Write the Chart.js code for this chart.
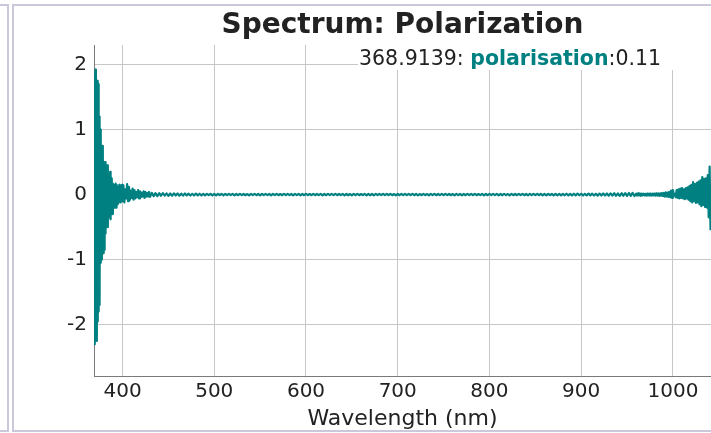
<!DOCTYPE html>
<html>
<head>
<meta charset="utf-8">
<script src="https://cdn.jsdelivr.net/npm/chart.js@4"></script>
<style>
  html, body { margin: 0; padding: 0; background: #fff; overflow: hidden; width: 711px; height: 433px; }
  .panel { position: absolute; border: 2px solid #c9c9db; box-sizing: border-box; }
  #panelLeft { left: -20px; top: 4px; width: 29px; height: 428px; }
  #panelMain { left: 12px; top: 4px; width: 760px; height: 428px; }
  canvas { position: absolute; left: 0; top: 0; }
</style>
</head>
<body>
<div class="panel" id="panelLeft"></div>
<div class="panel" id="panelMain"></div>
<canvas id="spectrum" width="711" height="433"></canvas>
<script>
// Text
const TITLE = 'Spectrum: Polarization';
const SERIES_NAME = 'polarisation';
const X_TITLE = 'Wavelength (nm)';

// Tick labels
const xTicks = [400, 500, 600, 700, 800, 900, 1000];
const yTicks = [-2, -1, 0, 1, 2];

// Axis ranges
const xRange = [368.9139, 1041.5];
const yRange = [-2.79, 2.30];

// Sampled wavelengths (nm)
const wavelengths = [
  368.9139,
  369.5,370,370.5,371,371.5,372,372.5,373,373.5,374,
  374.5,375,375.5,376,376.5,377,377.5,378,378.5,379,
  379.5,380,380.5,381,381.5,382,382.5,383,383.5,384,
  384.5,385,385.5,386,386.5,387,387.5,388,388.5,389,
  389.5,390,390.5,391,391.5,392,392.5,393,393.5,394,
  394.5,395,395.5,396,396.5,397,397.5,398,398.5,399,
  399.5,400,
  401,402,403,404,405,406,407,408,409,410,
  411,412,413,414,415,416,417,418,419,420,
  421,422,423,424,425,426,427,428,429,430,
  432,434,436,438,440,442,444,446,448,450,
  452,454,456,458,460,462,464,466,468,470,
  472,474,476,478,480,482,484,486,488,490,
  492,494,496,498,500,502,504,506,508,510,
  512,514,516,518,520,522,524,526,528,530,
  532,534,536,538,540,542,544,546,548,550,
  552,554,556,558,560,562,564,566,568,570,
  572,574,576,578,580,582,584,586,588,590,
  592,594,596,598,600,602,604,606,608,610,
  612,614,616,618,620,622,624,626,628,630,
  632,634,636,638,640,642,644,646,648,650,
  652,654,656,658,660,662,664,666,668,670,
  672,674,676,678,680,682,684,686,688,690,
  692,694,696,698,700,702,704,706,708,710,
  712,714,716,718,720,722,724,726,728,730,
  732,734,736,738,740,742,744,746,748,750,
  752,754,756,758,760,762,764,766,768,770,
  772,774,776,778,780,782,784,786,788,790,
  792,794,796,798,800,802,804,806,808,810,
  812,814,816,818,820,822,824,826,828,830,
  832,834,836,838,840,842,844,846,848,850,
  852,854,856,858,860,862,864,866,868,870,
  872,874,876,878,880,882,884,886,888,890,
  892,894,896,898,900,902,904,906,908,910,
  912,914,916,918,920,922,924,926,928,930,
  932,934,936,938,940,942,944,946,948,950,
  952,954,956,958,
  960,961,962,963,964,965,966,967,968,969,
  970,971,972,973,974,975,976,977,978,979,
  980,981,982,983,984,985,986,987,988,989,
  990,991,992,993,994,995,996,997,998,999,
  1000,1001,1002,1003,1004,1005,1006,1007,1008,1009,
  1010,1011,1012,1013,1014,1015,1016,1017,1018,1019,
  1020,1021,1022,1023,1024,1025,1026,1027,1028,1029,
  1030,1031,1032,1033,1034,1035,1036,1037,1038,1039,
  1040,1041
];

// Polarisation at each wavelength
const polarisation = [
  0.11,
  1.85,-2.3,1.92,-2.15,1.6,-2.25,1.75,-1.95,1.7,-1.8,
  1.2,-1.7,1.0,-1.05,0.9,-1.0,0.6,-0.55,0.75,-0.9,
  0.45,-0.85,0.5,-0.6,0.5,-0.45,0.3,-0.5,0.45,-0.5,
  0.25,-0.35,0.3,-0.3,0.35,-0.38,0.2,-0.25,0.25,-0.3,
  0.17,-0.15,0.15,-0.2,0.1,-0.15,0.17,-0.2,0.15,-0.12,
  0.12,-0.15,0.1,-0.12,0.15,-0.1,0.08,-0.12,0.13,-0.1,
  0.15,-0.1,
  0.14,-0.12,0.08,-0.06,0.16,-0.1,0.12,-0.08,0.06,-0.05,
  0.09,-0.08,0.07,-0.06,0.04,-0.04,0.07,-0.06,0.05,-0.04,
  0.03,-0.03,0.05,-0.05,0.04,-0.03,0.025,-0.03,0.04,-0.035,
  0.026,-0.024,0.022,-0.025,0.02,-0.018,0.022,-0.016,0.018,-0.02,
  0.016,-0.018,0.019,-0.014,0.016,-0.017,0.014,-0.016,0.017,-0.013,
  0.014,-0.015,0.012,-0.014,0.015,-0.012,0.013,-0.014,0.011,-0.013,
  0.012,-0.01,0.011,-0.012,0.009,-0.011,0.012,-0.01,0.011,-0.011,
  0.01,-0.009,0.011,-0.008,0.01,-0.011,0.009,-0.01,0.011,-0.009,
  0.009,-0.01,0.008,-0.011,0.01,-0.009,0.011,-0.01,0.009,-0.011,
  0.011,-0.009,0.01,-0.008,0.009,-0.011,0.01,-0.009,0.011,-0.01,
  0.008,-0.01,0.011,-0.009,0.01,-0.008,0.009,-0.011,0.01,-0.009,
  0.01,-0.011,0.009,-0.01,0.011,-0.009,0.008,-0.01,0.011,-0.01,
  0.009,-0.008,0.01,-0.011,0.009,-0.01,0.011,-0.009,0.01,-0.008,
  0.011,-0.01,0.009,-0.008,0.01,-0.011,0.009,-0.01,0.008,-0.011,
  0.01,-0.009,0.011,-0.01,0.008,-0.009,0.01,-0.011,0.009,-0.01,
  0.009,-0.011,0.01,-0.009,0.011,-0.008,0.01,-0.009,0.011,-0.01,
  0.011,-0.01,0.008,-0.011,0.009,-0.01,0.011,-0.009,0.01,-0.008,
  0.01,-0.008,0.011,-0.01,0.009,-0.011,0.008,-0.01,0.01,-0.009,
  0.008,-0.011,0.01,-0.009,0.011,-0.01,0.009,-0.008,0.011,-0.01,
  0.011,-0.009,0.009,-0.01,0.008,-0.011,0.01,-0.009,0.009,-0.011,
  0.009,-0.01,0.011,-0.008,0.01,-0.009,0.011,-0.01,0.008,-0.009,
  0.01,-0.011,0.009,-0.01,0.011,-0.009,0.01,-0.008,0.011,-0.011,
  0.009,-0.01,0.01,-0.009,0.008,-0.011,0.011,-0.01,0.009,-0.01,
  0.01,-0.009,0.011,-0.01,0.009,-0.011,0.01,-0.01,0.011,-0.01,
  0.011,-0.01,0.012,-0.011,0.01,-0.012,0.011,-0.01,0.012,-0.011,
  0.012,-0.011,0.01,-0.013,0.012,-0.011,0.013,-0.012,0.011,-0.013,
  0.013,-0.012,0.014,-0.011,0.013,-0.014,0.012,-0.013,0.015,-0.012,
  0.014,-0.015,0.013,-0.016,0.015,-0.014,0.017,-0.015,0.016,-0.017,
  0.018,-0.016,0.02,-0.018,0.017,-0.021,0.02,-0.018,0.022,-0.02,
  0.024,-0.021,0.026,-0.022,
  0.014,-0.016,0.02,-0.014,0.016,-0.02,0.013,-0.011,0.014,-0.013,
  0.012,-0.014,0.016,-0.013,0.014,-0.016,0.013,-0.014,0.016,-0.014,
  0.015,-0.017,0.02,-0.015,0.018,-0.02,0.02,-0.018,0.022,-0.02,
  0.025,-0.03,0.035,-0.03,0.03,-0.035,0.04,-0.04,0.06,-0.05,
  0.07,-0.01,0.01,-0.04,0.07,-0.05,0.08,-0.06,0.09,-0.05,
  0.1,-0.06,0.08,-0.07,0.1,-0.06,0.11,-0.08,0.13,-0.1,
  0.15,-0.12,0.19,-0.1,0.16,-0.13,0.18,-0.12,0.2,-0.15,
  0.22,-0.18,0.27,-0.16,0.24,-0.19,0.25,-0.2,0.3,-0.35,
  0.43,-0.55
];

const TEAL = '#008080';
const TEXT = '#222222';
const FONT = 'DejaVu Sans';
const GRID = '#c6c6c6';

const points = wavelengths.map((w, i) => ({ x: w, y: polarisation[i] }));

// Title centred over the plot area, plus the value readout in the top-right corner
const overlay = {
  id: 'overlay',
  afterDraw(chart) {
    const ctx = chart.ctx;
    const area = chart.chartArea;
    ctx.save();
    ctx.fillStyle = TEXT;
    ctx.textAlign = 'center';
    ctx.textBaseline = 'alphabetic';
    ctx.font = `bold 28px "${FONT}"`;
    ctx.fillText(TITLE, (area.left + area.right) / 2, 33);

    // readout box
    ctx.fillStyle = '#ffffff';
    ctx.fillRect(358, area.top, chart.width - 358, 25);

    let x = 359;
    const y = 64.5;
    ctx.textAlign = 'left';
    const head = wavelengths[0] + ': ';
    ctx.font = `20.5px "${FONT}"`;
    ctx.fillStyle = TEXT;
    ctx.fillText(head, x, y);
    x += ctx.measureText(head).width;
    ctx.font = `bold 20.5px "${FONT}"`;
    ctx.fillStyle = TEAL;
    ctx.fillText(SERIES_NAME, x, y);
    x += ctx.measureText(SERIES_NAME).width;
    ctx.font = `20.5px "${FONT}"`;
    ctx.fillStyle = TEXT;
    ctx.fillText(':' + polarisation[0], x, y);
    ctx.restore();
  }
};

new Chart(document.getElementById('spectrum'), {
  type: 'line',
  data: {
    datasets: [{
      label: SERIES_NAME,
      data: points,
      borderColor: TEAL,
      borderWidth: 2.2,
      borderJoinStyle: 'round',
      pointRadius: 0,
      tension: 0,
      fill: false
    }]
  },
  options: {
    responsive: false,
    animation: false,
    devicePixelRatio: 1,
    parsing: false,
    layout: { padding: { top: 45, left: 0, right: 0, bottom: 0 } },
    plugins: {
      legend: { display: false },
      title: { display: false },
      tooltip: { enabled: false }
    },
    scales: {
      x: {
        type: 'linear',
        min: xRange[0],
        max: xRange[1],
        afterBuildTicks: s => { s.ticks = xTicks.map(v => ({ value: v })); },
        afterFit: s => { s.height = 57; },
        grid: { color: GRID, lineWidth: 1, drawTicks: false },
        border: { color: '#7a7a7a', width: 1 },
        ticks: { padding: 4, color: TEXT, font: { family: FONT, size: 20 }, maxRotation: 0, autoSkip: false, callback: v => String(v) },
        title: { display: true, text: X_TITLE, color: TEXT, font: { family: FONT, size: 22 }, padding: { top: 0, bottom: 1 } }
      },
      y: {
        type: 'linear',
        min: yRange[0],
        max: yRange[1],
        afterBuildTicks: s => { s.ticks = yTicks.map(v => ({ value: v })); },
        afterFit: s => { s.width = 94; },
        grid: { color: GRID, lineWidth: 1, drawTicks: false },
        border: { color: '#7a7a7a', width: 1 },
        ticks: { padding: 7, color: TEXT, font: { family: FONT, size: 20 }, callback: v => String(v) }
      }
    }
  },
  plugins: [overlay]
});
</script>
</body>
</html>
